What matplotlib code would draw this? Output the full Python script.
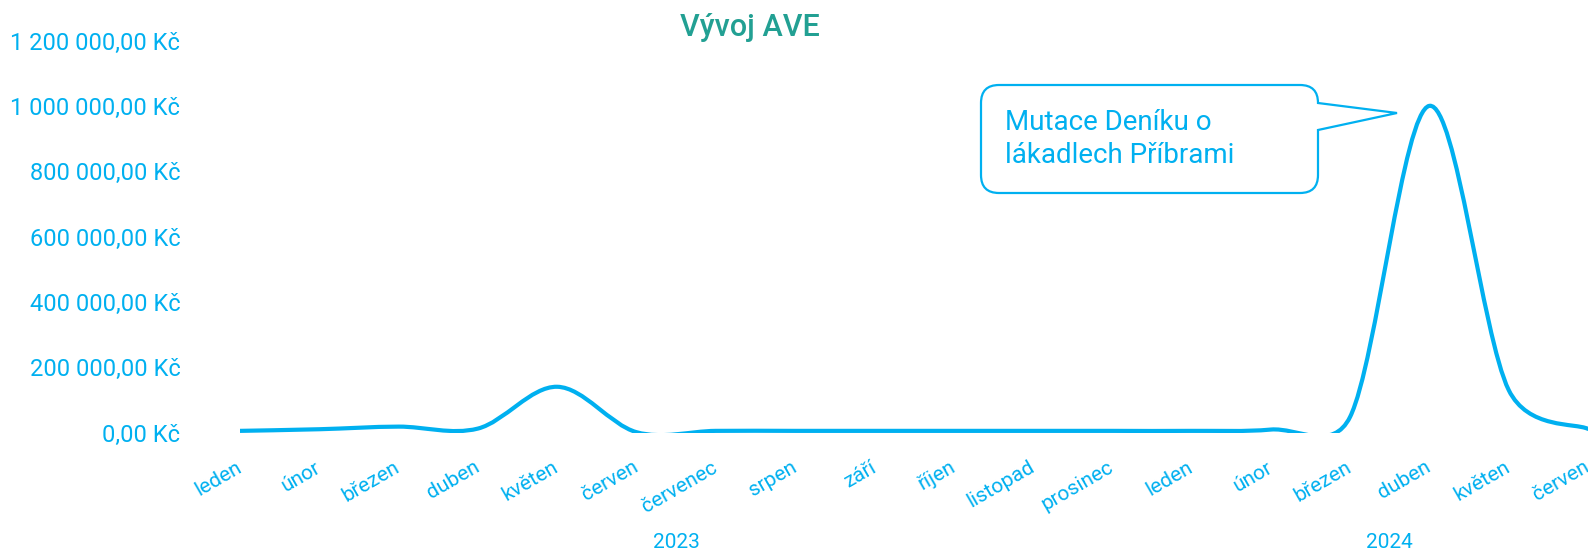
import numpy as np
import matplotlib.pyplot as plt
from matplotlib.path import Path
from matplotlib.patches import PathPatch
from matplotlib.transforms import blended_transform_factory

plt.rcParams['font.family'] = ['Roboto', 'DejaVu Sans']

# data (Kč per month)
months = ["leden", "únor", "březen", "duben", "květen", "červen", "červenec",
          "srpen", "září", "říjen", "listopad", "prosinec",
          "leden", "únor", "březen", "duben", "květen", "červen"]
years = ["2023"] * 12 + ["2024"] * 6
ave = [5000, 10000, 18000, 12000, 140000, 1000, 5000, 5000, 5000, 5000, 5000, 5000,
       5000, 9000, 48000, 1000000, 130000, 11000]
y_ticks = [0, 200000, 400000, 600000, 800000, 1000000, 1200000]

BLUE = "#00b0f0"
TEAL = "#22a093"
W, H = 1588, 553

fig = plt.figure(figsize=(W / 100, H / 100), dpi=100)
ax = fig.add_axes([240 / W, 1 - 432.5 / H, 1 - 240 / W, (432.5 - 40.5) / H])
n = len(ave)
x = np.arange(n)
ax.set_xlim(0, n - 1)
ax.set_ylim(0, 1200000)

# Excel-like smoothed line: bezier through the points, control points
# worked out in screen space and capped at half the segment length
P = ax.transData.transform(np.column_stack([x, ave]).astype(float))
verts = [P[0]]
codes = [Path.MOVETO]
for i in range(n - 1):
    p0, p1, p2, p3 = P[max(i - 1, 0)], P[i], P[i + 1], P[min(i + 2, n - 1)]
    d02 = np.hypot(*(p2 - p0))
    d12 = np.hypot(*(p2 - p1))
    d13 = np.hypot(*(p3 - p1))
    f1 = 1 / 6 if d02 / 6 < d12 / 2 else d12 / 2 / d02
    f2 = 1 / 6 if d13 / 6 < d12 / 2 else d12 / 2 / d13
    verts += [p1 + f1 * (p2 - p0), p2 - f2 * (p3 - p1), p2]
    codes += [Path.CURVE4] * 3
verts = ax.transData.inverted().transform(np.array(verts))
line = PathPatch(Path(verts, codes), fill=False, edgecolor=BLUE, lw=3,
                 capstyle='round', joinstyle='round')
ax.add_patch(line)

for s in ax.spines.values():
    s.set_visible(False)

def kc(v):
    return f"{v:,.2f}".replace(",", " ").replace(".", ",") + " Kč"

ax.set_yticks(y_ticks, [kc(v) for v in y_ticks])
ax.tick_params(axis='y', length=0, pad=43, labelsize=17, labelcolor=BLUE)
ax.set_xticks(x, months, rotation=30, ha='right', va='center', rotation_mode='anchor')
ax.tick_params(axis='x', length=0, pad=24, labelsize=15, labelcolor=BLUE)

# year group labels
tr = blended_transform_factory(ax.transData, fig.transFigure)
for yr in dict.fromkeys(years):
    idx = [i for i, v in enumerate(years) if v == yr]
    ax.text(np.mean(idx), 1 - 542 / H, yr, transform=tr, ha='center', va='center',
            fontsize=15, color=BLUE)

fig.text(750 / W, 1 - 27 / H, "Vývoj AVE", ha='center', va='center',
         fontsize=22, fontweight='medium', color=TEAL)

# callout box
def px(xp, yp):
    return (xp / W, 1 - yp / H)

L, R, T, B, r = 981, 1318, 85, 193, 18
tip = (1397, 113)
base_bot = 130
pts = [
    ((L + r, T), Path.MOVETO),
    ((R - r, T), Path.LINETO),
    ((R, T), Path.CURVE3), ((R, T + r), Path.CURVE3),
    (tip, Path.LINETO),
    ((R, base_bot), Path.LINETO),
    ((R, B - r), Path.LINETO),
    ((R, B), Path.CURVE3), ((R - r, B), Path.CURVE3),
    ((L + r, B), Path.LINETO),
    ((L, B), Path.CURVE3), ((L, B - r), Path.CURVE3),
    ((L, T + r), Path.LINETO),
    ((L, T), Path.CURVE3), ((L + r, T), Path.CURVE3),
    ((L + r, T), Path.CLOSEPOLY),
]
callout = PathPatch(Path([px(*p) for p, _ in pts], [c for _, c in pts]),
                    transform=fig.transFigure, facecolor='white', edgecolor=BLUE, lw=1.6)
fig.add_artist(callout)
fig.text(1005 / W, 1 - 130 / H, "Mutace Deníku o", ha='left', va='baseline',
         fontsize=20, color=BLUE)
fig.text(1005 / W, 1 - 162.7 / H, "lákadlech Příbrami", ha='left', va='baseline',
         fontsize=20, color=BLUE)

fig.savefig("out.png", dpi=100)
